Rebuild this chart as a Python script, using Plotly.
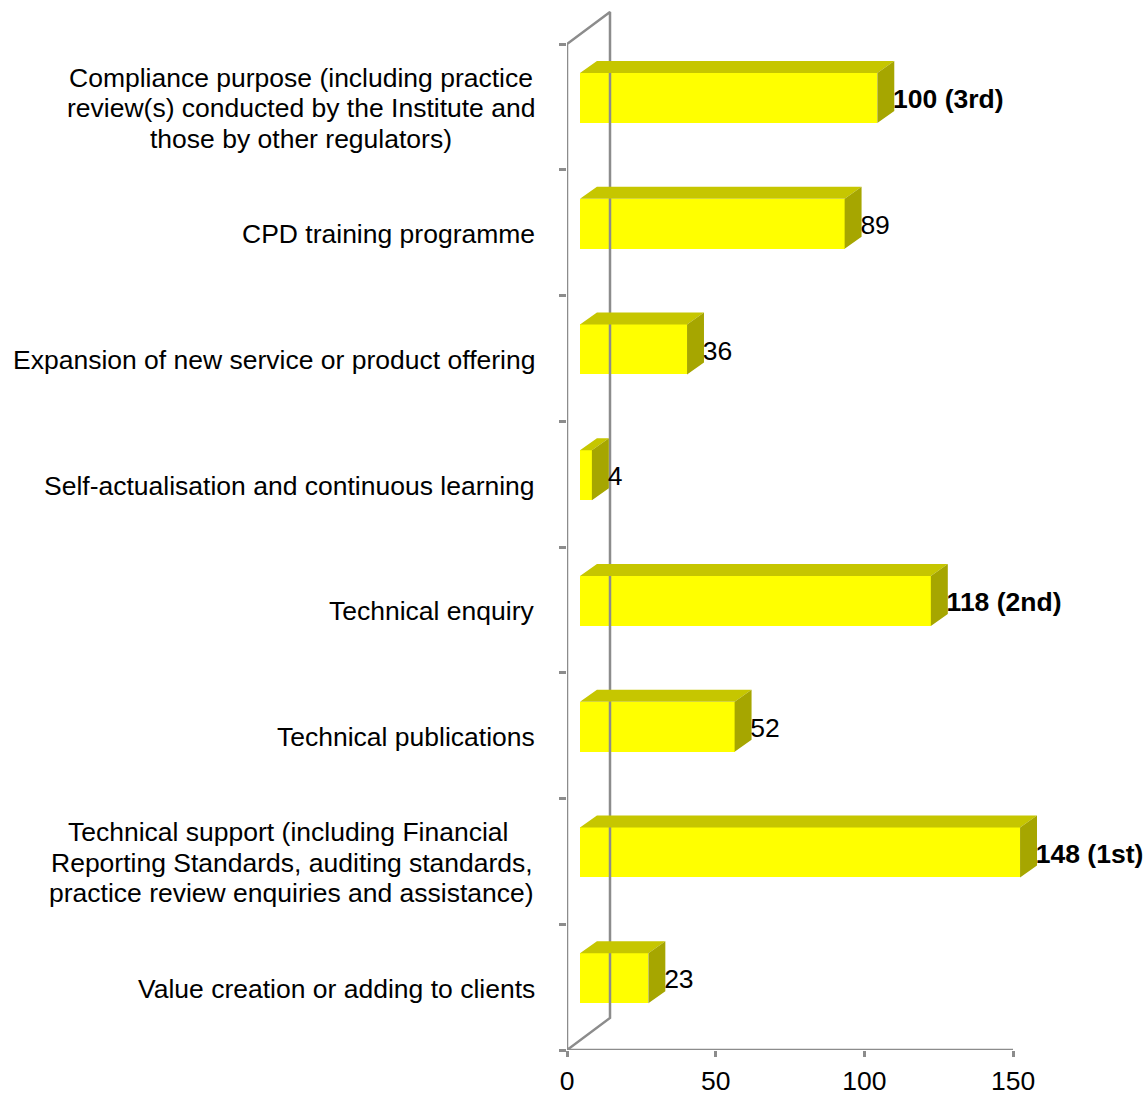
import plotly.graph_objects as go

category_lines = [
    ["Compliance purpose (including practice", "review(s) conducted by the Institute and", "those by other regulators)"],
    ["CPD training programme"],
    ["Expansion of new service or product offering"],
    ["Self-actualisation and continuous learning"],
    ["Technical enquiry"],
    ["Technical publications"],
    ["Technical support (including Financial ", "Reporting Standards, auditing standards,", "practice review enquiries and assistance)"],
    ["Value creation or adding to clients"],
]
values = [100, 89, 36, 4, 118, 52, 148, 23]
value_labels = ["<b>100 (3rd)</b>", "89", "36", "4", "<b>118 (2nd)</b>", "52", "<b>148 (1st)</b>", "23"]
x_ticks = [0, 50, 100, 150]

# 3-D look, in axis units
BASE = 4.37       # gap between wall and front face
DEPTH_X = 5.7     # bar depth
DEPTH_Y = 0.095
WALL_X = 14.46    # wall depth
WALL_Y = 0.255
BAR_TOP = 0.23    # front-face position within a category slot
BAR_H = 0.398
GREY = "#8c8c8c"
LINE_W = 2.5
FONT = "Liberation Sans, Arial, sans-serif"
FS = 26.5
LINE_GAP = 30.5   # px between lines of a wrapped label
BLOCK_SHIFT = -266.5  # px from the axis to the centre of a wrapped label

n = len(values)
slots = list(range(n))
y_front = [i + BAR_TOP + BAR_H / 2 for i in slots]

fig = go.Figure()

# walls
fig.add_trace(go.Scatter(
    x=[0, WALL_X, WALL_X, 0, 0], y=[0, -WALL_Y, n - WALL_Y, n, 0],
    mode="lines", line=dict(color=GREY, width=LINE_W), hoverinfo="skip", showlegend=False))
fig.add_trace(go.Scatter(
    x=[0, 150], y=[n, n],
    mode="lines", line=dict(color=GREY, width=LINE_W), hoverinfo="skip", showlegend=False))

# top faces and side faces
top_x, top_y, side_x, side_y = [], [], [], []
for i, v in zip(slots, values):
    y0 = i + BAR_TOP
    y1 = y0 + BAR_H
    x0 = BASE
    x1 = BASE + v
    top_x += [x0, x1, x1 + DEPTH_X, x0 + DEPTH_X, x0, None]
    top_y += [y0, y0, y0 - DEPTH_Y, y0 - DEPTH_Y, y0, None]
    side_x += [x1, x1 + DEPTH_X, x1 + DEPTH_X, x1, x1, None]
    side_y += [y0, y0 - DEPTH_Y, y1 - DEPTH_Y, y1, y0, None]
fig.add_trace(go.Scatter(x=top_x, y=top_y, mode="none", fill="toself", fillcolor="#C6C600",
                         hoverinfo="skip", showlegend=False))
fig.add_trace(go.Scatter(x=side_x, y=side_y, mode="none", fill="toself", fillcolor="#A6A600",
                         hoverinfo="skip", showlegend=False))

# front faces
fig.add_trace(go.Bar(
    x=values, y=y_front, base=BASE, width=BAR_H, orientation="h",
    marker=dict(color="#FFFF00", line=dict(width=0)), showlegend=False))

# data labels
fig.add_trace(go.Scatter(
    x=[BASE + v + DEPTH_X - 0.4 for v in values], y=[y + 0.028 for y in y_front],
    mode="text", text=value_labels, textposition="middle right",
    textfont=dict(family=FONT, size=FS, color="#000000"),
    cliponaxis=False, hoverinfo="skip", showlegend=False))

# category labels
for i, lines in zip(slots, category_lines):
    for k, line in enumerate(lines):
        wrapped = len(lines) > 1
        fig.add_annotation(
            x=0, y=i + 0.5, xref="x", yref="y", text=line, showarrow=False,
            xanchor="center" if wrapped else "right", yanchor="middle",
            xshift=BLOCK_SHIFT - (9 if i == 6 else 0) if wrapped else -30,
            yshift=-(k - (len(lines) - 1) / 2) * LINE_GAP - 1.5,
            font=dict(family=FONT, size=FS, color="#000000"))

fig.update_layout(
    width=1148, height=1095, paper_bgcolor="white", plot_bgcolor="white",
    margin=dict(l=567, r=0, t=0, b=45), bargap=0, showlegend=False,
    font=dict(family=FONT, size=FS, color="#000000"),
    xaxis=dict(range=[0, 195.4], automargin=False, tickvals=x_ticks, ticks="outside", ticklen=7, tickwidth=0,
               tickcolor="rgba(0,0,0,0)", showgrid=False, zeroline=False, showline=False,
               minor=dict(tickvals=x_ticks, ticks="outside", ticklen=6, tickwidth=LINE_W, tickcolor=GREY, showgrid=False),
               tickfont=dict(family=FONT, size=FS)),
    yaxis=dict(range=[n, -0.35], automargin=False, tickvals=list(range(n + 1)), ticks="outside", ticklen=7, tickwidth=LINE_W,
               tickcolor=GREY, showticklabels=False, showgrid=False, zeroline=False, showline=False),
)
fig.write_html("out.html", config={"displayModeBar": False},
               post_script="document.body.style.margin='0';document.documentElement.style.overflow='hidden';")
